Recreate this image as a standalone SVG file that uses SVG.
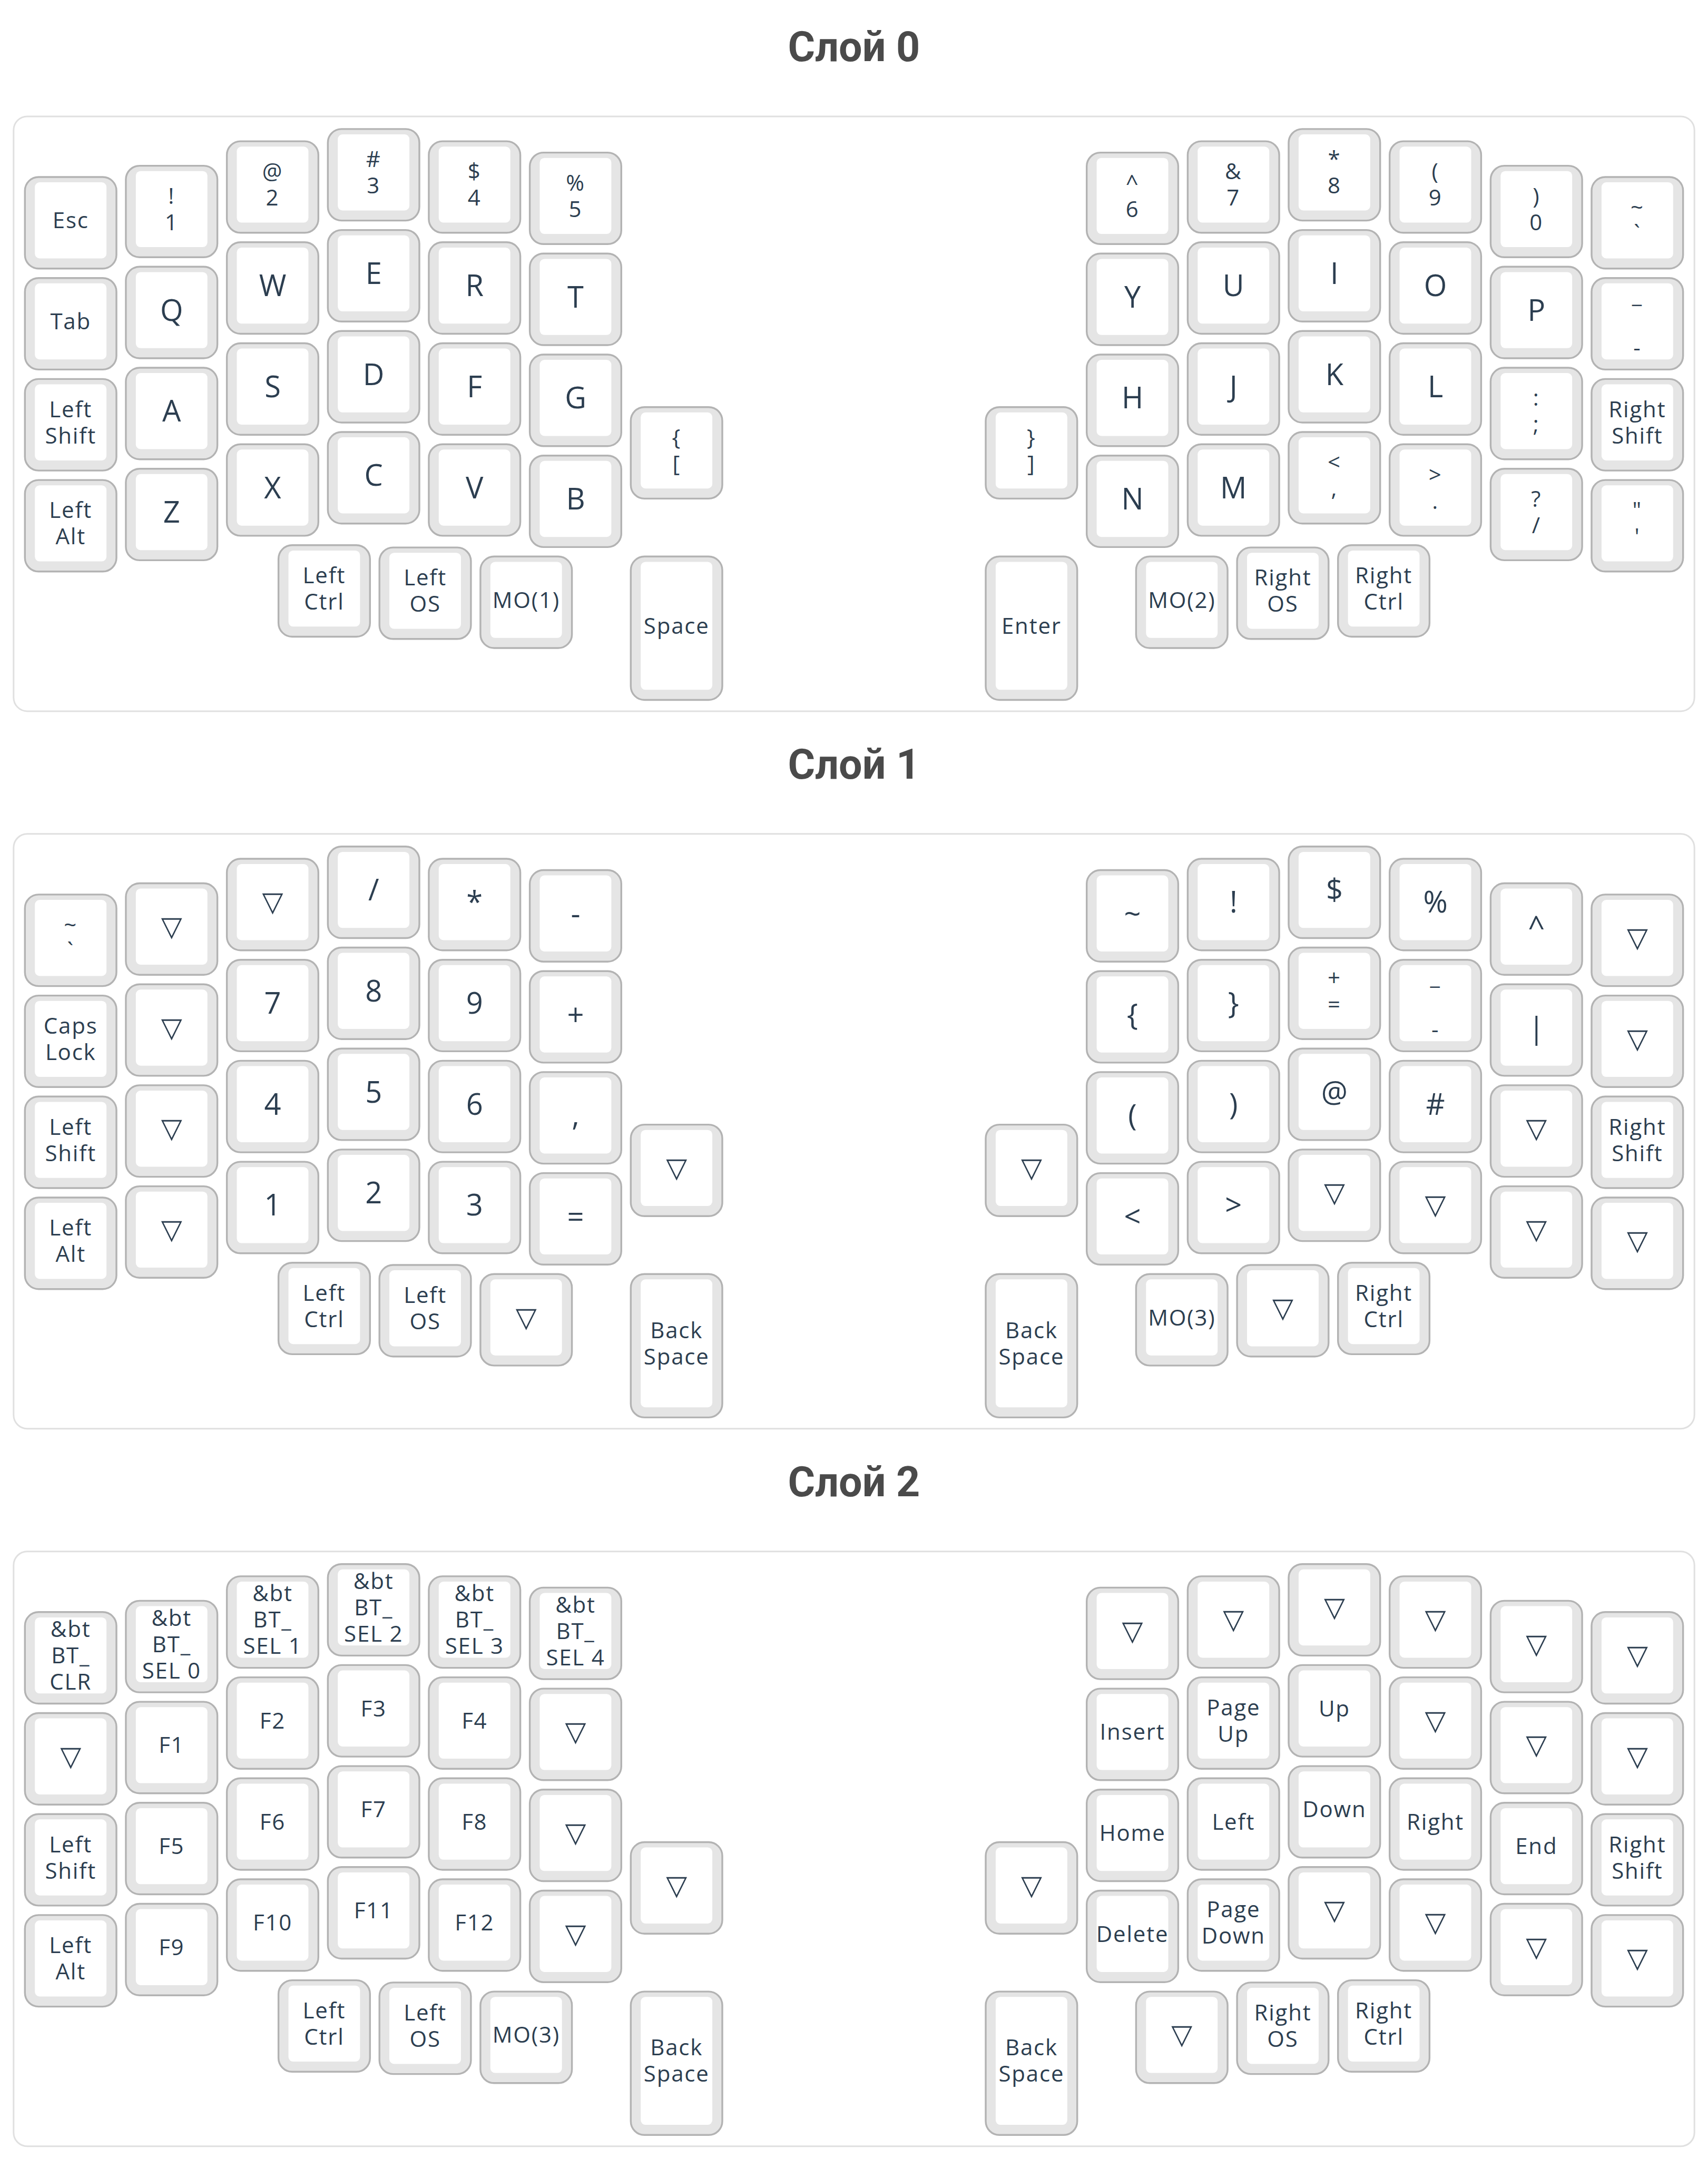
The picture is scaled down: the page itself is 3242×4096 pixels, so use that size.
<svg xmlns="http://www.w3.org/2000/svg" xmlns:xlink="http://www.w3.org/1999/xlink" width="3242" height="4096" viewBox="0 0 3242 4096">
<style>
.panel{fill:#ffffff;stroke:#e0e0e0;stroke-width:3}
.title{font-family:Roboto,"Liberation Sans",sans-serif;font-weight:700;font-size:79px;fill:#4a4a4a;text-anchor:middle}
.o{fill:#e5e5e5;stroke:#b3b3b3;stroke-width:3.4}
.i{fill:#ffffff}
.s,.b,.t{fill:#2c3e50;text-anchor:middle}
.s{font-family:"Open Sans","Noto Sans",sans-serif;font-size:42px;letter-spacing:1.8px}
.b{font-family:"Open Sans","Noto Sans",sans-serif;font-size:56px}
.t{font-family:"DejaVu Sans",sans-serif;font-size:52px}
</style>
<defs>
<g id="u1"><rect class="o" x="1.7" y="1.7" width="173.7" height="173.7" rx="26"/><rect class="i" x="20.6" y="11.8" width="135.9" height="144.4" rx="9"/></g>
<g id="u15"><rect class="o" x="1.7" y="1.7" width="173.7" height="272.2" rx="26"/><rect class="i" x="20.6" y="11.8" width="135.9" height="242.9" rx="9"/></g>
</defs>
<rect width="3242" height="4096" fill="#ffffff"/>

<!-- ===== Layer 0 ===== -->
<g id="layer0">
<text class="title" x="1621" y="116">Слой 0</text>
<rect class="panel" x="25.8" y="220.9" width="3190.4" height="1129" rx="26"/>
<g id="l0-esc" transform="translate(45.6,334.3)"><use href="#u1"/><text class="s" x="88.6" y="99">Esc</text></g>
<g id="l0-tab" transform="translate(45.6,526.0)"><use href="#u1"/><text class="s" x="88.6" y="99">Tab</text></g>
<g id="l0-lshift" transform="translate(45.6,717.7)"><use href="#u1"/><text class="s" x="88.6" y="74">Left<tspan x="88.6" y="124">Shift</tspan></text></g>
<g id="l0-lalt" transform="translate(45.6,909.4)"><use href="#u1"/><text class="s" x="88.6" y="74">Left<tspan x="88.6" y="124">Alt</tspan></text></g>
<g id="l0-1" transform="translate(237.2,312.9)"><use href="#u1"/><text class="s" x="88.6" y="74">!<tspan x="88.6" y="124">1</tspan></text></g>
<g id="l0-q" transform="translate(237.2,504.6)"><use href="#u1"/><text class="b" x="88.6" y="104">Q</text></g>
<g id="l0-a" transform="translate(237.2,696.3)"><use href="#u1"/><text class="b" x="88.6" y="104">A</text></g>
<g id="l0-z" transform="translate(237.2,888.0)"><use href="#u1"/><text class="b" x="88.6" y="104">Z</text></g>
<g id="l0-2" transform="translate(428.9,266.4)"><use href="#u1"/><text class="s" x="88.6" y="74">@<tspan x="88.6" y="124">2</tspan></text></g>
<g id="l0-w" transform="translate(428.9,458.1)"><use href="#u1"/><text class="b" x="88.6" y="104">W</text></g>
<g id="l0-s" transform="translate(428.9,649.8)"><use href="#u1"/><text class="b" x="88.6" y="104">S</text></g>
<g id="l0-x" transform="translate(428.9,841.5)"><use href="#u1"/><text class="b" x="88.6" y="104">X</text></g>
<g id="l0-3" transform="translate(620.6,243.2)"><use href="#u1"/><text class="s" x="88.6" y="74">#<tspan x="88.6" y="124">3</tspan></text></g>
<g id="l0-e" transform="translate(620.6,434.9)"><use href="#u1"/><text class="b" x="88.6" y="104">E</text></g>
<g id="l0-d" transform="translate(620.6,626.6)"><use href="#u1"/><text class="b" x="88.6" y="104">D</text></g>
<g id="l0-c" transform="translate(620.6,818.3)"><use href="#u1"/><text class="b" x="88.6" y="104">C</text></g>
<g id="l0-4" transform="translate(812.2,266.4)"><use href="#u1"/><text class="s" x="88.6" y="74">$<tspan x="88.6" y="124">4</tspan></text></g>
<g id="l0-r" transform="translate(812.2,458.1)"><use href="#u1"/><text class="b" x="88.6" y="104">R</text></g>
<g id="l0-f" transform="translate(812.2,649.8)"><use href="#u1"/><text class="b" x="88.6" y="104">F</text></g>
<g id="l0-v" transform="translate(812.2,841.5)"><use href="#u1"/><text class="b" x="88.6" y="104">V</text></g>
<g id="l0-5" transform="translate(1003.9,287.9)"><use href="#u1"/><text class="s" x="88.6" y="74">%<tspan x="88.6" y="124">5</tspan></text></g>
<g id="l0-t" transform="translate(1003.9,479.6)"><use href="#u1"/><text class="b" x="88.6" y="104">T</text></g>
<g id="l0-g" transform="translate(1003.9,671.3)"><use href="#u1"/><text class="b" x="88.6" y="104">G</text></g>
<g id="l0-b" transform="translate(1003.9,863.0)"><use href="#u1"/><text class="b" x="88.6" y="104">B</text></g>
<g id="l0-lbkt" transform="translate(1195.6,771.0)"><use href="#u1"/><text class="s" x="88.6" y="74">{<tspan x="88.6" y="124">[</tspan></text></g>
<g id="l0-lctrl" transform="translate(526.9,1033.1)"><use href="#u1"/><text class="s" x="88.6" y="74">Left<tspan x="88.6" y="124">Ctrl</tspan></text></g>
<g id="l0-los" transform="translate(718.5,1037.4)"><use href="#u1"/><text class="s" x="88.6" y="74">Left<tspan x="88.6" y="124">OS</tspan></text></g>
<g id="l0-mo1" transform="translate(910.2,1054.6)"><use href="#u1"/><text class="s" x="88.6" y="99">MO(1)</text></g>
<g id="l0-space" transform="translate(1195.6,1054.6)"><use href="#u15"/><text class="s" x="88.6" y="148">Space</text></g>
<g id="l0-6" transform="translate(2061.0,287.9)"><use href="#u1"/><text class="s" x="88.6" y="74">^<tspan x="88.6" y="124">6</tspan></text></g>
<g id="l0-y" transform="translate(2061.0,479.6)"><use href="#u1"/><text class="b" x="88.6" y="104">Y</text></g>
<g id="l0-h" transform="translate(2061.0,671.3)"><use href="#u1"/><text class="b" x="88.6" y="104">H</text></g>
<g id="l0-n" transform="translate(2061.0,863.0)"><use href="#u1"/><text class="b" x="88.6" y="104">N</text></g>
<g id="l0-7" transform="translate(2252.7,266.4)"><use href="#u1"/><text class="s" x="88.6" y="74">&amp;<tspan x="88.6" y="124">7</tspan></text></g>
<g id="l0-u" transform="translate(2252.7,458.1)"><use href="#u1"/><text class="b" x="88.6" y="104">U</text></g>
<g id="l0-j" transform="translate(2252.7,649.8)"><use href="#u1"/><text class="b" x="88.6" y="104">J</text></g>
<g id="l0-m" transform="translate(2252.7,841.5)"><use href="#u1"/><text class="b" x="88.6" y="104">M</text></g>
<g id="l0-8" transform="translate(2444.3,243.2)"><use href="#u1"/><text class="s" x="88.6" y="74">*<tspan x="88.6" y="124">8</tspan></text></g>
<g id="l0-i" transform="translate(2444.3,434.9)"><use href="#u1"/><text class="b" x="88.6" y="104">I</text></g>
<g id="l0-k" transform="translate(2444.3,626.6)"><use href="#u1"/><text class="b" x="88.6" y="104">K</text></g>
<g id="l0-comma" transform="translate(2444.3,818.3)"><use href="#u1"/><text class="s" x="88.6" y="74">&lt;<tspan x="88.6" y="124">,</tspan></text></g>
<g id="l0-9" transform="translate(2636.0,266.4)"><use href="#u1"/><text class="s" x="88.6" y="74">(<tspan x="88.6" y="124">9</tspan></text></g>
<g id="l0-o" transform="translate(2636.0,458.1)"><use href="#u1"/><text class="b" x="88.6" y="104">O</text></g>
<g id="l0-l" transform="translate(2636.0,649.8)"><use href="#u1"/><text class="b" x="88.6" y="104">L</text></g>
<g id="l0-dot" transform="translate(2636.0,841.5)"><use href="#u1"/><text class="s" x="88.6" y="74">&gt;<tspan x="88.6" y="124">.</tspan></text></g>
<g id="l0-0" transform="translate(2827.7,312.9)"><use href="#u1"/><text class="s" x="88.6" y="74">)<tspan x="88.6" y="124">0</tspan></text></g>
<g id="l0-p" transform="translate(2827.7,504.6)"><use href="#u1"/><text class="b" x="88.6" y="104">P</text></g>
<g id="l0-semi" transform="translate(2827.7,696.3)"><use href="#u1"/><text class="s" x="88.6" y="74">:<tspan x="88.6" y="124">;</tspan></text></g>
<g id="l0-slash" transform="translate(2827.7,888.0)"><use href="#u1"/><text class="s" x="88.6" y="74">?<tspan x="88.6" y="124">/</tspan></text></g>
<g id="l0-grave" transform="translate(3019.3,334.3)"><use href="#u1"/><text class="s" x="88.6" y="74">~<tspan x="88.6" y="124">`</tspan></text></g>
<g id="l0-minus" transform="translate(3019.3,526.0)"><use href="#u1"/><text class="s" x="88.6" y="49">_<tspan x="88.6" y="149">-</tspan></text></g>
<g id="l0-rshift" transform="translate(3019.3,717.7)"><use href="#u1"/><text class="s" x="88.6" y="74">Right<tspan x="88.6" y="124">Shift</tspan></text></g>
<g id="l0-quote" transform="translate(3019.3,909.4)"><use href="#u1"/><text class="s" x="88.6" y="74">"<tspan x="88.6" y="124">'</tspan></text></g>
<g id="l0-rbkt" transform="translate(1869.3,771.0)"><use href="#u1"/><text class="s" x="88.6" y="74">}<tspan x="88.6" y="124">]</tspan></text></g>
<g id="l0-enter" transform="translate(1869.3,1054.6)"><use href="#u15"/><text class="s" x="88.6" y="148">Enter</text></g>
<g id="l0-mo2" transform="translate(2154.7,1054.6)"><use href="#u1"/><text class="s" x="88.6" y="99">MO(2)</text></g>
<g id="l0-ros" transform="translate(2346.4,1037.4)"><use href="#u1"/><text class="s" x="88.6" y="74">Right<tspan x="88.6" y="124">OS</tspan></text></g>
<g id="l0-rctrl" transform="translate(2538.0,1033.1)"><use href="#u1"/><text class="s" x="88.6" y="74">Right<tspan x="88.6" y="124">Ctrl</tspan></text></g>
</g>

<!-- ===== Layer 1 ===== -->
<g id="layer1" transform="translate(0,1361.9)">
<text class="title" x="1621" y="116">Слой 1</text>
<rect class="panel" x="25.8" y="220.9" width="3190.4" height="1129" rx="26"/>
<g id="l1-grave" transform="translate(45.6,334.3)"><use href="#u1"/><text class="s" x="88.6" y="74">~<tspan x="88.6" y="124">`</tspan></text></g>
<g id="l1-caps" transform="translate(45.6,526.0)"><use href="#u1"/><text class="s" x="88.6" y="74">Caps<tspan x="88.6" y="124">Lock</tspan></text></g>
<g id="l1-lshift" transform="translate(45.6,717.7)"><use href="#u1"/><text class="s" x="88.6" y="74">Left<tspan x="88.6" y="124">Shift</tspan></text></g>
<g id="l1-lalt" transform="translate(45.6,909.4)"><use href="#u1"/><text class="s" x="88.6" y="74">Left<tspan x="88.6" y="124">Alt</tspan></text></g>
<g id="l1-c1r0" transform="translate(237.2,312.9)"><use href="#u1"/><text class="t" x="88.6" y="101">▽</text></g>
<g id="l1-c1r1" transform="translate(237.2,504.6)"><use href="#u1"/><text class="t" x="88.6" y="101">▽</text></g>
<g id="l1-c1r2" transform="translate(237.2,696.3)"><use href="#u1"/><text class="t" x="88.6" y="101">▽</text></g>
<g id="l1-c1r3" transform="translate(237.2,888.0)"><use href="#u1"/><text class="t" x="88.6" y="101">▽</text></g>
<g id="l1-c2r0" transform="translate(428.9,266.4)"><use href="#u1"/><text class="t" x="88.6" y="101">▽</text></g>
<g id="l1-7" transform="translate(428.9,458.1)"><use href="#u1"/><text class="b" x="88.6" y="104">7</text></g>
<g id="l1-4" transform="translate(428.9,649.8)"><use href="#u1"/><text class="b" x="88.6" y="104">4</text></g>
<g id="l1-1" transform="translate(428.9,841.5)"><use href="#u1"/><text class="b" x="88.6" y="104">1</text></g>
<g id="l1-slash" transform="translate(620.6,243.2)"><use href="#u1"/><text class="b" x="88.6" y="104">/</text></g>
<g id="l1-8" transform="translate(620.6,434.9)"><use href="#u1"/><text class="b" x="88.6" y="104">8</text></g>
<g id="l1-5" transform="translate(620.6,626.6)"><use href="#u1"/><text class="b" x="88.6" y="104">5</text></g>
<g id="l1-2" transform="translate(620.6,818.3)"><use href="#u1"/><text class="b" x="88.6" y="104">2</text></g>
<g id="l1-star" transform="translate(812.2,266.4)"><use href="#u1"/><text class="b" x="88.6" y="104">*</text></g>
<g id="l1-9" transform="translate(812.2,458.1)"><use href="#u1"/><text class="b" x="88.6" y="104">9</text></g>
<g id="l1-6" transform="translate(812.2,649.8)"><use href="#u1"/><text class="b" x="88.6" y="104">6</text></g>
<g id="l1-3" transform="translate(812.2,841.5)"><use href="#u1"/><text class="b" x="88.6" y="104">3</text></g>
<g id="l1-minus" transform="translate(1003.9,287.9)"><use href="#u1"/><text class="b" x="88.6" y="104">-</text></g>
<g id="l1-plus" transform="translate(1003.9,479.6)"><use href="#u1"/><text class="b" x="88.6" y="104">+</text></g>
<g id="l1-comma" transform="translate(1003.9,671.3)"><use href="#u1"/><text class="b" x="88.6" y="104">,</text></g>
<g id="l1-eq" transform="translate(1003.9,863.0)"><use href="#u1"/><text class="b" x="88.6" y="104">=</text></g>
<g id="l1-c6" transform="translate(1195.6,771.0)"><use href="#u1"/><text class="t" x="88.6" y="101">▽</text></g>
<g id="l1-lctrl" transform="translate(526.9,1033.1)"><use href="#u1"/><text class="s" x="88.6" y="74">Left<tspan x="88.6" y="124">Ctrl</tspan></text></g>
<g id="l1-los" transform="translate(718.5,1037.4)"><use href="#u1"/><text class="s" x="88.6" y="74">Left<tspan x="88.6" y="124">OS</tspan></text></g>
<g id="l1-lth3" transform="translate(910.2,1054.6)"><use href="#u1"/><text class="t" x="88.6" y="101">▽</text></g>
<g id="l1-lbksp" transform="translate(1195.6,1054.6)"><use href="#u15"/><text class="s" x="88.6" y="123">Back<tspan x="88.6" y="173">Space</tspan></text></g>
<g id="l1-tilde" transform="translate(2061.0,287.9)"><use href="#u1"/><text class="b" x="88.6" y="104">~</text></g>
<g id="l1-lbrace" transform="translate(2061.0,479.6)"><use href="#u1"/><text class="b" x="88.6" y="104">{</text></g>
<g id="l1-lpar" transform="translate(2061.0,671.3)"><use href="#u1"/><text class="b" x="88.6" y="104">(</text></g>
<g id="l1-lt" transform="translate(2061.0,863.0)"><use href="#u1"/><text class="b" x="88.6" y="104">&lt;</text></g>
<g id="l1-excl" transform="translate(2252.7,266.4)"><use href="#u1"/><text class="b" x="88.6" y="104">!</text></g>
<g id="l1-rbrace" transform="translate(2252.7,458.1)"><use href="#u1"/><text class="b" x="88.6" y="104">}</text></g>
<g id="l1-rpar" transform="translate(2252.7,649.8)"><use href="#u1"/><text class="b" x="88.6" y="104">)</text></g>
<g id="l1-gt" transform="translate(2252.7,841.5)"><use href="#u1"/><text class="b" x="88.6" y="104">&gt;</text></g>
<g id="l1-dollar" transform="translate(2444.3,243.2)"><use href="#u1"/><text class="b" x="88.6" y="104">$</text></g>
<g id="l1-pluseq" transform="translate(2444.3,434.9)"><use href="#u1"/><text class="s" x="88.6" y="74">+<tspan x="88.6" y="124">=</tspan></text></g>
<g id="l1-at" transform="translate(2444.3,626.6)"><use href="#u1"/><text class="b" x="88.6" y="104">@</text></g>
<g id="l1-c3mr3" transform="translate(2444.3,818.3)"><use href="#u1"/><text class="t" x="88.6" y="101">▽</text></g>
<g id="l1-pct" transform="translate(2636.0,266.4)"><use href="#u1"/><text class="b" x="88.6" y="104">%</text></g>
<g id="l1-under" transform="translate(2636.0,458.1)"><use href="#u1"/><text class="s" x="88.6" y="49">_<tspan x="88.6" y="149">-</tspan></text></g>
<g id="l1-hash" transform="translate(2636.0,649.8)"><use href="#u1"/><text class="b" x="88.6" y="104">#</text></g>
<g id="l1-c2mr3" transform="translate(2636.0,841.5)"><use href="#u1"/><text class="t" x="88.6" y="101">▽</text></g>
<g id="l1-caret" transform="translate(2827.7,312.9)"><use href="#u1"/><text class="b" x="88.6" y="104">^</text></g>
<g id="l1-pipe" transform="translate(2827.7,504.6)"><use href="#u1"/><text class="b" x="88.6" y="104">|</text></g>
<g id="l1-c1mr2" transform="translate(2827.7,696.3)"><use href="#u1"/><text class="t" x="88.6" y="101">▽</text></g>
<g id="l1-c1mr3" transform="translate(2827.7,888.0)"><use href="#u1"/><text class="t" x="88.6" y="101">▽</text></g>
<g id="l1-c0mr0" transform="translate(3019.3,334.3)"><use href="#u1"/><text class="t" x="88.6" y="101">▽</text></g>
<g id="l1-c0mr1" transform="translate(3019.3,526.0)"><use href="#u1"/><text class="t" x="88.6" y="101">▽</text></g>
<g id="l1-rshift" transform="translate(3019.3,717.7)"><use href="#u1"/><text class="s" x="88.6" y="74">Right<tspan x="88.6" y="124">Shift</tspan></text></g>
<g id="l1-c0mr3" transform="translate(3019.3,909.4)"><use href="#u1"/><text class="t" x="88.6" y="101">▽</text></g>
<g id="l1-c6m" transform="translate(1869.3,771.0)"><use href="#u1"/><text class="t" x="88.6" y="101">▽</text></g>
<g id="l1-rbksp" transform="translate(1869.3,1054.6)"><use href="#u15"/><text class="s" x="88.6" y="123">Back<tspan x="88.6" y="173">Space</tspan></text></g>
<g id="l1-mo3" transform="translate(2154.7,1054.6)"><use href="#u1"/><text class="s" x="88.6" y="99">MO(3)</text></g>
<g id="l1-rth2" transform="translate(2346.4,1037.4)"><use href="#u1"/><text class="t" x="88.6" y="101">▽</text></g>
<g id="l1-rctrl" transform="translate(2538.0,1033.1)"><use href="#u1"/><text class="s" x="88.6" y="74">Right<tspan x="88.6" y="124">Ctrl</tspan></text></g>
</g>

<!-- ===== Layer 2 ===== -->
<g id="layer2" transform="translate(0,2723.8)">
<text class="title" x="1621" y="116">Слой 2</text>
<rect class="panel" x="25.8" y="220.9" width="3190.4" height="1129" rx="26"/>
<g id="l2-btclr" transform="translate(45.6,334.3)"><use href="#u1"/><text class="s" x="88.6" y="49">&amp;bt<tspan x="88.6" y="99">BT_</tspan><tspan x="88.6" y="149">CLR</tspan></text></g>
<g id="l2-c0r1" transform="translate(45.6,526.0)"><use href="#u1"/><text class="t" x="88.6" y="101">▽</text></g>
<g id="l2-lshift" transform="translate(45.6,717.7)"><use href="#u1"/><text class="s" x="88.6" y="74">Left<tspan x="88.6" y="124">Shift</tspan></text></g>
<g id="l2-lalt" transform="translate(45.6,909.4)"><use href="#u1"/><text class="s" x="88.6" y="74">Left<tspan x="88.6" y="124">Alt</tspan></text></g>
<g id="l2-bt0" transform="translate(237.2,312.9)"><use href="#u1"/><text class="s" x="88.6" y="49">&amp;bt<tspan x="88.6" y="99">BT_</tspan><tspan x="88.6" y="149">SEL 0</tspan></text></g>
<g id="l2-f1" transform="translate(237.2,504.6)"><use href="#u1"/><text class="s" x="88.6" y="99">F1</text></g>
<g id="l2-f5" transform="translate(237.2,696.3)"><use href="#u1"/><text class="s" x="88.6" y="99">F5</text></g>
<g id="l2-f9" transform="translate(237.2,888.0)"><use href="#u1"/><text class="s" x="88.6" y="99">F9</text></g>
<g id="l2-bt1" transform="translate(428.9,266.4)"><use href="#u1"/><text class="s" x="88.6" y="49">&amp;bt<tspan x="88.6" y="99">BT_</tspan><tspan x="88.6" y="149">SEL 1</tspan></text></g>
<g id="l2-f2" transform="translate(428.9,458.1)"><use href="#u1"/><text class="s" x="88.6" y="99">F2</text></g>
<g id="l2-f6" transform="translate(428.9,649.8)"><use href="#u1"/><text class="s" x="88.6" y="99">F6</text></g>
<g id="l2-f10" transform="translate(428.9,841.5)"><use href="#u1"/><text class="s" x="88.6" y="99">F10</text></g>
<g id="l2-bt2" transform="translate(620.6,243.2)"><use href="#u1"/><text class="s" x="88.6" y="49">&amp;bt<tspan x="88.6" y="99">BT_</tspan><tspan x="88.6" y="149">SEL 2</tspan></text></g>
<g id="l2-f3" transform="translate(620.6,434.9)"><use href="#u1"/><text class="s" x="88.6" y="99">F3</text></g>
<g id="l2-f7" transform="translate(620.6,626.6)"><use href="#u1"/><text class="s" x="88.6" y="99">F7</text></g>
<g id="l2-f11" transform="translate(620.6,818.3)"><use href="#u1"/><text class="s" x="88.6" y="99">F11</text></g>
<g id="l2-bt3" transform="translate(812.2,266.4)"><use href="#u1"/><text class="s" x="88.6" y="49">&amp;bt<tspan x="88.6" y="99">BT_</tspan><tspan x="88.6" y="149">SEL 3</tspan></text></g>
<g id="l2-f4" transform="translate(812.2,458.1)"><use href="#u1"/><text class="s" x="88.6" y="99">F4</text></g>
<g id="l2-f8" transform="translate(812.2,649.8)"><use href="#u1"/><text class="s" x="88.6" y="99">F8</text></g>
<g id="l2-f12" transform="translate(812.2,841.5)"><use href="#u1"/><text class="s" x="88.6" y="99">F12</text></g>
<g id="l2-bt4" transform="translate(1003.9,287.9)"><use href="#u1"/><text class="s" x="88.6" y="49">&amp;bt<tspan x="88.6" y="99">BT_</tspan><tspan x="88.6" y="149">SEL 4</tspan></text></g>
<g id="l2-c5r1" transform="translate(1003.9,479.6)"><use href="#u1"/><text class="t" x="88.6" y="101">▽</text></g>
<g id="l2-c5r2" transform="translate(1003.9,671.3)"><use href="#u1"/><text class="t" x="88.6" y="101">▽</text></g>
<g id="l2-c5r3" transform="translate(1003.9,863.0)"><use href="#u1"/><text class="t" x="88.6" y="101">▽</text></g>
<g id="l2-c6" transform="translate(1195.6,771.0)"><use href="#u1"/><text class="t" x="88.6" y="101">▽</text></g>
<g id="l2-lctrl" transform="translate(526.9,1033.1)"><use href="#u1"/><text class="s" x="88.6" y="74">Left<tspan x="88.6" y="124">Ctrl</tspan></text></g>
<g id="l2-los" transform="translate(718.5,1037.4)"><use href="#u1"/><text class="s" x="88.6" y="74">Left<tspan x="88.6" y="124">OS</tspan></text></g>
<g id="l2-mo3" transform="translate(910.2,1054.6)"><use href="#u1"/><text class="s" x="88.6" y="99">MO(3)</text></g>
<g id="l2-lbksp" transform="translate(1195.6,1054.6)"><use href="#u15"/><text class="s" x="88.6" y="123">Back<tspan x="88.6" y="173">Space</tspan></text></g>
<g id="l2-c5mr0" transform="translate(2061.0,287.9)"><use href="#u1"/><text class="t" x="88.6" y="101">▽</text></g>
<g id="l2-ins" transform="translate(2061.0,479.6)"><use href="#u1"/><text class="s" x="88.6" y="99">Insert</text></g>
<g id="l2-home" transform="translate(2061.0,671.3)"><use href="#u1"/><text class="s" x="88.6" y="99">Home</text></g>
<g id="l2-del" transform="translate(2061.0,863.0)"><use href="#u1"/><text class="s" x="88.6" y="99">Delete</text></g>
<g id="l2-c4mr0" transform="translate(2252.7,266.4)"><use href="#u1"/><text class="t" x="88.6" y="101">▽</text></g>
<g id="l2-pgup" transform="translate(2252.7,458.1)"><use href="#u1"/><text class="s" x="88.6" y="74">Page<tspan x="88.6" y="124">Up</tspan></text></g>
<g id="l2-left" transform="translate(2252.7,649.8)"><use href="#u1"/><text class="s" x="88.6" y="99">Left</text></g>
<g id="l2-pgdn" transform="translate(2252.7,841.5)"><use href="#u1"/><text class="s" x="88.6" y="74">Page<tspan x="88.6" y="124">Down</tspan></text></g>
<g id="l2-c3mr0" transform="translate(2444.3,243.2)"><use href="#u1"/><text class="t" x="88.6" y="101">▽</text></g>
<g id="l2-up" transform="translate(2444.3,434.9)"><use href="#u1"/><text class="s" x="88.6" y="99">Up</text></g>
<g id="l2-down" transform="translate(2444.3,626.6)"><use href="#u1"/><text class="s" x="88.6" y="99">Down</text></g>
<g id="l2-c3mr3" transform="translate(2444.3,818.3)"><use href="#u1"/><text class="t" x="88.6" y="101">▽</text></g>
<g id="l2-c2mr0" transform="translate(2636.0,266.4)"><use href="#u1"/><text class="t" x="88.6" y="101">▽</text></g>
<g id="l2-c2mr1" transform="translate(2636.0,458.1)"><use href="#u1"/><text class="t" x="88.6" y="101">▽</text></g>
<g id="l2-right" transform="translate(2636.0,649.8)"><use href="#u1"/><text class="s" x="88.6" y="99">Right</text></g>
<g id="l2-c2mr3" transform="translate(2636.0,841.5)"><use href="#u1"/><text class="t" x="88.6" y="101">▽</text></g>
<g id="l2-c1mr0" transform="translate(2827.7,312.9)"><use href="#u1"/><text class="t" x="88.6" y="101">▽</text></g>
<g id="l2-c1mr1" transform="translate(2827.7,504.6)"><use href="#u1"/><text class="t" x="88.6" y="101">▽</text></g>
<g id="l2-end" transform="translate(2827.7,696.3)"><use href="#u1"/><text class="s" x="88.6" y="99">End</text></g>
<g id="l2-c1mr3" transform="translate(2827.7,888.0)"><use href="#u1"/><text class="t" x="88.6" y="101">▽</text></g>
<g id="l2-c0mr0" transform="translate(3019.3,334.3)"><use href="#u1"/><text class="t" x="88.6" y="101">▽</text></g>
<g id="l2-c0mr1" transform="translate(3019.3,526.0)"><use href="#u1"/><text class="t" x="88.6" y="101">▽</text></g>
<g id="l2-rshift" transform="translate(3019.3,717.7)"><use href="#u1"/><text class="s" x="88.6" y="74">Right<tspan x="88.6" y="124">Shift</tspan></text></g>
<g id="l2-c0mr3" transform="translate(3019.3,909.4)"><use href="#u1"/><text class="t" x="88.6" y="101">▽</text></g>
<g id="l2-c6m" transform="translate(1869.3,771.0)"><use href="#u1"/><text class="t" x="88.6" y="101">▽</text></g>
<g id="l2-rbksp" transform="translate(1869.3,1054.6)"><use href="#u15"/><text class="s" x="88.6" y="123">Back<tspan x="88.6" y="173">Space</tspan></text></g>
<g id="l2-rth1" transform="translate(2154.7,1054.6)"><use href="#u1"/><text class="t" x="88.6" y="101">▽</text></g>
<g id="l2-ros" transform="translate(2346.4,1037.4)"><use href="#u1"/><text class="s" x="88.6" y="74">Right<tspan x="88.6" y="124">OS</tspan></text></g>
<g id="l2-rctrl" transform="translate(2538.0,1033.1)"><use href="#u1"/><text class="s" x="88.6" y="74">Right<tspan x="88.6" y="124">Ctrl</tspan></text></g>
</g>
<g id="connectors"/>
</svg>
